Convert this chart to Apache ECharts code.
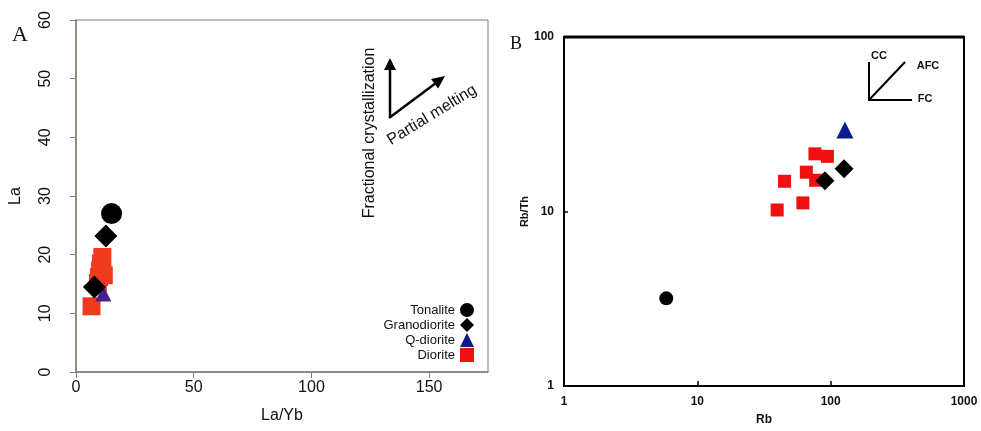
<!DOCTYPE html>
<html><head><meta charset="utf-8">
<script src="https://cdn.jsdelivr.net/npm/echarts@6/dist/echarts.min.js"></script>
<style>html,body{margin:0;padding:0;background:#fff}#c{width:981px;height:431px}</style>
</head><body><div id="c"></div>
<script>
// Panel A: La/Yb (x) vs La (y)
var seriesNames = ['Tonalite', 'Granodiorite', 'Q-diorite', 'Diorite'];
var aTonalite = [[15.1, 27.0]];
var aGranodiorite = [[12.7, 23.2], [7.8, 14.5]];
var aQdiorite = [[11.6, 13.4]];
var aDiorite = [[6.6, 11.2], [9.3, 15.2], [9.8, 16.2], [10.2, 17.3], [10.6, 18.5], [11.2, 19.6], [11.8, 16.5]];
// Panel B: Rb (x) vs Rb/Th (y), log-log
var bTonalite = [[5.85, 3.18]];
var bGranodiorite = [[126, 17.6], [90.6, 15.0]];
var bQdiorite = [[128, 29.3]];
var bDiorite = [[39.7, 10.2], [61.9, 11.2], [45.1, 14.9], [65.7, 16.8], [77.1, 15.1], [76.2, 21.4], [94.5, 20.7]];
var aXTicks = [0, 50, 100, 150];
var aYTicks = [0, 10, 20, 30, 40, 50, 60];
var bXTicks = [1, 10, 100, 1000];
var bYTicks = [1, 10, 100];

var chart = echarts.init(document.getElementById('c'));
var greyAxis = '#857c72';
var font = 'Liberation Sans, Arial, sans-serif';

function arrowHead(tx, ty, ux, uy, len, half) {
  var bx = tx - ux * len, by = ty - uy * len;
  return [[tx, ty], [bx + uy * half, by - ux * half], [bx - uy * half, by + ux * half]];
}
var d = Math.sqrt(54 * 54 + 40 * 40), ux = 54 / d, uy = -40 / d;
function logLabel(ticks) {
  return function (v) {
    for (var i = 0; i < ticks.length; i++) { if (Math.abs(v - ticks[i]) < 1e-6 * ticks[i]) return String(ticks[i]); }
    return '';
  };
}

chart.setOption({
  animation: false,
  textStyle: { fontFamily: font },
  grid: [
    { left: 76, top: 20, width: 412, height: 352, show: true, borderColor: greyAxis, borderWidth: 1, backgroundColor: 'transparent' },
    { left: 564, top: 37, width: 400, height: 355, show: true, borderColor: '#000', borderWidth: 2, backgroundColor: 'transparent' }
  ],
  xAxis: [
    { gridIndex: 0, type: 'value', min: 0, max: 175, interval: 50,
      name: 'La/Yb', nameLocation: 'middle', nameGap: 36,
      nameTextStyle: { fontSize: 16, color: '#111', fontFamily: font },
      axisLine: { lineStyle: { color: greyAxis, width: 1.5 } },
      axisTick: { length: 6, lineStyle: { color: greyAxis } },
      axisLabel: { fontSize: 16, color: '#111', margin: 8, showMaxLabel: false,
        formatter: function (v) { return aXTicks.indexOf(v) >= 0 ? String(v) : ''; } },
      splitLine: { show: false } },
    { gridIndex: 1, type: 'log', logBase: 10, min: 1, max: 1000,
      name: 'Rb', nameLocation: 'middle', nameGap: 28,
      nameTextStyle: { fontSize: 12, fontWeight: 'bold', color: '#111', fontFamily: font },
      axisLine: { lineStyle: { color: '#000', width: 2 } },
      axisTick: { inside: true, length: 5, lineStyle: { color: '#000', width: 1.5 } },
      axisLabel: { fontSize: 12, fontWeight: 'bold', color: '#111', margin: 10, formatter: logLabel(bXTicks) },
      minorTick: { show: false },
      splitLine: { show: false } }
  ],
  yAxis: [
    { gridIndex: 0, type: 'value', min: 0, max: 60, interval: 10,
      name: 'La', nameLocation: 'middle', nameGap: 52, nameRotate: 90,
      nameTextStyle: { fontSize: 16, color: '#111', fontFamily: font },
      axisLine: { lineStyle: { color: greyAxis, width: 1.5 } },
      axisTick: { length: 6, lineStyle: { color: greyAxis } },
      axisLabel: { fontSize: 16, color: '#111', rotate: 90, margin: 22,
        formatter: function (v) { return aYTicks.indexOf(v) >= 0 ? String(v) : ''; } },
      splitLine: { show: false } },
    { gridIndex: 1, type: 'log', logBase: 10, min: 1, max: 100,
      name: 'Rb/Th', nameLocation: 'middle', nameGap: 31, nameRotate: 90,
      nameTextStyle: { fontSize: 11, fontWeight: 'bold', color: '#111', fontFamily: font },
      axisLine: { lineStyle: { color: '#000', width: 2 } },
      axisTick: { inside: true, length: 4, lineStyle: { color: '#000', width: 1.5 } },
      axisLabel: { fontSize: 12, fontWeight: 'bold', color: '#111', margin: 10, formatter: logLabel(bYTicks) },
      minorTick: { show: false },
      splitLine: { show: false } }
  ],
  legend: {
    orient: 'vertical', align: 'right', right: 502, top: 298,
    itemWidth: 14, itemHeight: 14, itemGap: 1,
    textStyle: { fontSize: 13, color: '#111', fontFamily: font },
    selectedMode: false,
    data: [
      { name: 'Tonalite', icon: 'circle', itemStyle: { color: '#000' } },
      { name: 'Granodiorite', icon: 'diamond', itemStyle: { color: '#000' } },
      { name: 'Q-diorite', icon: 'triangle', itemStyle: { color: '#0c1a8a' } },
      { name: 'Diorite', icon: 'rect', itemStyle: { color: '#ee1111' } }
    ]
  },
  series: [
    { name: 'Diorite', type: 'scatter', xAxisIndex: 0, yAxisIndex: 0, data: aDiorite, symbol: 'rect', symbolSize: 18, itemStyle: { color: '#f03a1e', opacity: 1 } },
    { name: 'Q-diorite', type: 'scatter', xAxisIndex: 0, yAxisIndex: 0, data: aQdiorite, symbol: 'triangle', symbolSize: 16, itemStyle: { color: '#4a1f8a', opacity: 1 } },
    { name: 'Granodiorite', type: 'scatter', xAxisIndex: 0, yAxisIndex: 0, data: aGranodiorite, symbol: 'diamond', symbolSize: 23, itemStyle: { color: '#000', opacity: 1 } },
    { name: 'Tonalite', type: 'scatter', xAxisIndex: 0, yAxisIndex: 0, data: aTonalite, symbol: 'circle', symbolSize: 21, itemStyle: { color: '#000', opacity: 1 } },
    { name: 'Diorite', type: 'scatter', xAxisIndex: 1, yAxisIndex: 1, data: bDiorite, symbol: 'rect', symbolSize: 13, itemStyle: { color: '#f01010', opacity: 1 } },
    { name: 'Q-diorite', type: 'scatter', xAxisIndex: 1, yAxisIndex: 1, data: bQdiorite, symbol: 'triangle', symbolSize: 17, itemStyle: { color: '#0c1a8a', opacity: 1 } },
    { name: 'Granodiorite', type: 'scatter', xAxisIndex: 1, yAxisIndex: 1, data: bGranodiorite, symbol: 'diamond', symbolSize: 19, itemStyle: { color: '#000', opacity: 1 } },
    { name: 'Tonalite', type: 'scatter', xAxisIndex: 1, yAxisIndex: 1, data: bTonalite, symbol: 'circle', symbolSize: 14, itemStyle: { color: '#000', opacity: 1 } }
  ],
  graphic: [
    { type: 'text', left: 12, top: 24, style: { text: 'A', font: '22px "Liberation Serif", serif', fill: '#111' } },
    { type: 'text', left: 510, top: 35, style: { text: 'B', font: '18px "Liberation Serif", serif', fill: '#111' } },
    { type: 'text', x: 370, y: 133, rotation: Math.PI / 2,
      style: { text: 'Fractional crystallization', font: '16px "Liberation Sans", Arial, sans-serif', fill: '#111', align: 'center', verticalAlign: 'middle' } },
    { type: 'text', x: 432, y: 115, rotation: 0.55,
      style: { text: 'Partial melting', font: '16px "Liberation Sans", Arial, sans-serif', fill: '#111', align: 'center', verticalAlign: 'middle' } },
    { type: 'line', shape: { x1: 390, y1: 118, x2: 390, y2: 68 }, style: { stroke: '#000', lineWidth: 2.5 } },
    { type: 'polygon', shape: { points: arrowHead(390, 58, 0, -1, 12, 6) }, style: { fill: '#000' } },
    { type: 'line', shape: { x1: 389, y1: 118, x2: 444 - ux * 10, y2: 77 - uy * 10 }, style: { stroke: '#000', lineWidth: 2.5 } },
    { type: 'polygon', shape: { points: arrowHead(445, 76, ux, uy, 13, 6) }, style: { fill: '#000' } },
    { type: 'line', shape: { x1: 869, y1: 62, x2: 869, y2: 101 }, style: { stroke: '#000', lineWidth: 2 } },
    { type: 'line', shape: { x1: 868, y1: 100, x2: 912, y2: 100 }, style: { stroke: '#000', lineWidth: 2 } },
    { type: 'line', shape: { x1: 869, y1: 100, x2: 905, y2: 62 }, style: { stroke: '#000', lineWidth: 2 } },
    { type: 'line', shape: { x1: 564, y1: 37, x2: 964, y2: 37 }, style: { stroke: '#000', lineWidth: 3 } },
    { type: 'text', x: 879, y: 56, style: { text: 'CC', font: 'bold 11px "Liberation Sans", Arial, sans-serif', fill: '#111', align: 'center', verticalAlign: 'middle' } },
    { type: 'text', x: 928, y: 66, style: { text: 'AFC', font: 'bold 11px "Liberation Sans", Arial, sans-serif', fill: '#111', align: 'center', verticalAlign: 'middle' } },
    { type: 'text', x: 925, y: 99, style: { text: 'FC', font: 'bold 11px "Liberation Sans", Arial, sans-serif', fill: '#111', align: 'center', verticalAlign: 'middle' } }
  ]
});
</script></body></html>
